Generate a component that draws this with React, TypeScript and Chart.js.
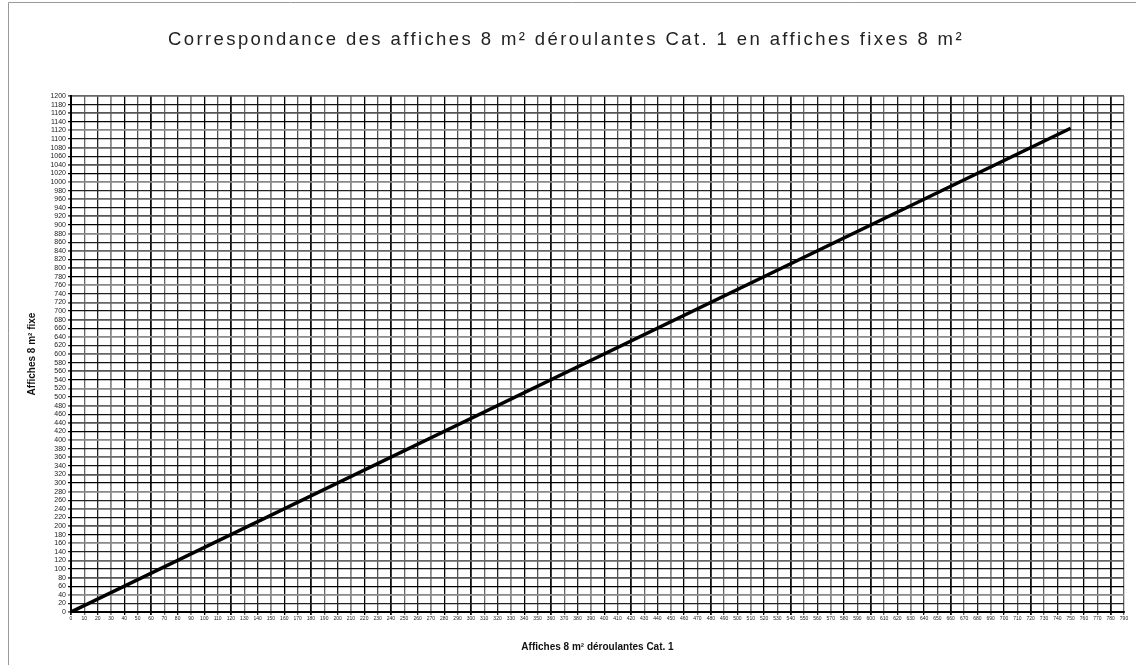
import React, { useEffect, useRef } from "react";
import { Chart, registerables } from "chart.js";

Chart.register(...registerables);

const titleText = "Correspondance des affiches 8 m² déroulantes Cat. 1 en affiches fixes 8 m²";
const xAxisTitle = "Affiches 8 m² déroulantes Cat. 1";
const yAxisTitle = "Affiches 8 m² fixe";

// Affiches déroulantes (x) -> affiches fixes (y)
const deroulantes = [0, 750];
const fixes = [0, 1125];

const xMin = 0;
const xMax = 790;
const xStep = 10;
const yMin = 0;
const yMax = 1200;
const yStep = 20;

const W = 1136;
const H = 665;

const framePlugin = {
  id: "frame",
  beforeDraw(chart: any) {
    const ctx = chart.ctx;
    ctx.save();
    ctx.fillStyle = "#ffffff";
    ctx.fillRect(0, 0, chart.width, chart.height);
    ctx.strokeStyle = "#999999";
    ctx.lineWidth = 1;
    ctx.beginPath();
    ctx.moveTo(8.5, 2.5);
    ctx.lineTo(8.5, chart.height);
    ctx.moveTo(8.5, 2.5);
    ctx.lineTo(chart.width, 2.5);
    ctx.stroke();
    ctx.restore();
  },
  afterDraw(chart: any) {
    const ctx = chart.ctx;
    ctx.save();
    ctx.fillStyle = "#222222";
    ctx.font = "18.5px 'Liberation Sans', Arial, sans-serif";
    (ctx as any).letterSpacing = "2.4px";
    ctx.textAlign = "center";
    ctx.textBaseline = "middle";
    ctx.fillText(titleText, 566, 40);
    ctx.restore();
  },
};

function gridColor(i: number) {
  const pattern = ["#111111", "#666666", "#222222", "#888888", "#000000", "#555555"];
  return pattern[i % pattern.length];
}

export default function App() {
  const ref = useRef<HTMLCanvasElement>(null);

  useEffect(() => {
    if (!ref.current) return;
    const chart = new Chart(ref.current, {
      type: "line",
      data: {
        datasets: [
          {
            label: "Correspondance",
            data: deroulantes.map((x, i) => ({ x, y: fixes[i] })),
            borderColor: "#000000",
            borderWidth: 3.5,
            pointRadius: 0,
            tension: 0,
          },
        ],
      },
      options: {
        animation: false,
        responsive: false,
        layout: { padding: { left: 0, right: 12, top: 96, bottom: 0 } },
        plugins: {
          legend: { display: false },
          tooltip: { enabled: false },
          title: { display: false },
        },
        scales: {
          x: {
            type: "linear",
            min: xMin,
            max: xMax,
            afterFit: (s: any) => {
              s.height = 53;
            },
            ticks: {
              stepSize: xStep,
              autoSkip: false,
              maxRotation: 0,
              minRotation: 0,
              padding: 1,
              color: "#222222",
              font: { family: "'Liberation Sans', Arial, sans-serif", size: 5 },
              callback: (v: any) => String(v),
            },
            grid: {
              color: (c: any) => gridColor(c.index ?? 0),
              lineWidth: (c: any) => ((c.index ?? 0) % 3 === 0 ? 1.8 : 1.3),
              tickLength: 3,
            },
            border: { color: "#000000", width: 2 },
            title: {
              display: true,
              text: xAxisTitle,
              color: "#111111",
              font: { family: "'Liberation Sans', Arial, sans-serif", size: 10, weight: "bold" },
              padding: { top: 0, bottom: 12 },
            },
          },
          y: {
            type: "linear",
            min: yMin,
            max: yMax,
            afterFit: (s: any) => {
              s.width = 71;
            },
            ticks: {
              stepSize: yStep,
              autoSkip: false,
              padding: 2,
              color: "#222222",
              font: { family: "'Liberation Sans', Arial, sans-serif", size: 7 },
              callback: (v: any) => String(v),
            },
            grid: {
              color: (c: any) => gridColor((c.index ?? 0) + 1),
              lineWidth: (c: any) => ((c.index ?? 0) % 2 === 0 ? 1.8 : 1.3),
              tickLength: 3,
            },
            border: { color: "#000000", width: 2 },
            title: {
              display: true,
              text: yAxisTitle,
              color: "#111111",
              font: { family: "'Liberation Sans', Arial, sans-serif", size: 10, weight: "bold" },
              padding: { top: 26, bottom: 0 },
            },
          },
        },
      },
      plugins: [framePlugin],
    } as any);
    return () => chart.destroy();
  }, []);

  return (
    <div style={{ position: "absolute", left: 0, top: 0, width: W, height: H, background: "#fff" }}>
      <canvas ref={ref} width={W} height={H} style={{ display: "block" }} />
    </div>
  );
}
